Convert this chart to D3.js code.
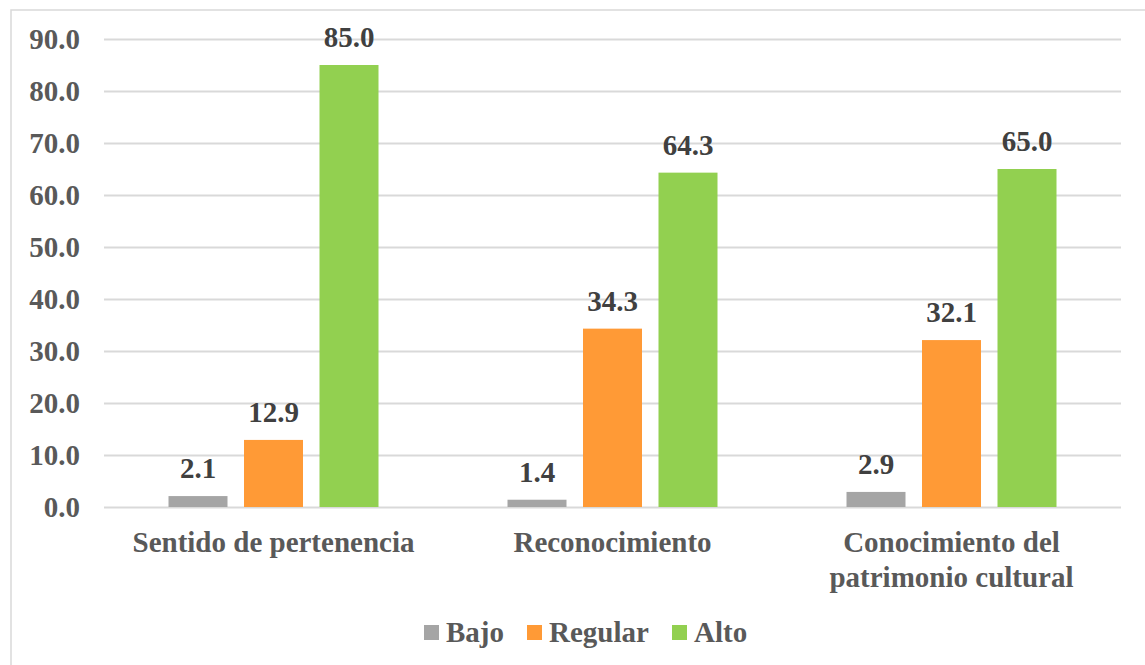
<!DOCTYPE html>
<html><head><meta charset="utf-8">
<script src="https://cdn.jsdelivr.net/npm/d3@7"></script>
<style>body{margin:0;background:#fff}svg{display:block}
svg text{font-family:"Liberation Serif","Times New Roman","DejaVu Serif",serif;font-weight:bold}</style>
</head><body>
<svg id="c" width="1145" height="665"></svg>
<script>
const categories = [["Sentido de pertenencia"], ["Reconocimiento"], ["Conocimiento del", "patrimonio cultural"]];
const seriesNames = ["Bajo", "Regular", "Alto"];
const bajo = [2.1, 1.4, 2.9];
const regular = [12.9, 34.3, 32.1];
const alto = [85.0, 64.3, 65.0];
const yTicks = [0, 10, 20, 30, 40, 50, 60, 70, 80, 90];
const colors = ["#A5A5A5", "#FF9A36", "#92D050"];

(function () {
const series = [bajo, regular, alto];
const svg = d3.select("#c");
svg.append("rect").attr("x", 11).attr("y", 10).attr("width", 1160).attr("height", 700)
  .attr("fill", "#fff").attr("stroke", "#D9D9D9").attr("stroke-width", 1.5);

const pLeft = 104, pRight = 1121, pTop = 39, pBottom = 507;
const x0 = d3.scaleBand().domain(categories.map((d, i) => i)).range([pLeft, pRight]);
const y = d3.scaleLinear().domain([0, 90]).range([pBottom, pTop]);
const barW = 59, step = 75.5;

const g = svg.append("g");
const yAxis = g.append("g").attr("transform", `translate(${pLeft},0)`)
  .call(d3.axisLeft(y).tickValues(yTicks).tickSize(-(pRight - pLeft)).tickFormat(d3.format(".1f")));
yAxis.attr("font-family", null).attr("font-size", null);
yAxis.select(".domain").remove();
yAxis.selectAll(".tick line").attr("stroke", "#D9D9D9").attr("stroke-width", 2);
yAxis.selectAll(".tick text").attr("x", -24).attr("dy", "0.34em").attr("fill", "#595959")
  .style("font-size", "29px");

categories.forEach((c, i) => {
  const cx = x0(i) + x0.bandwidth() / 2;
  series.forEach((s, j) => {
    const bx = cx + (j - 1) * step - barW / 2;
    g.append("rect").attr("x", bx).attr("y", y(s[i])).attr("width", barW)
      .attr("height", y(0) - y(s[i])).attr("fill", colors[j]);
    g.append("text").attr("x", cx + (j - 1) * step).attr("y", y(s[i]) - 18)
      .attr("text-anchor", "middle").attr("fill", "#404040")
      .style("font-size", "29px")
      .text(s[i].toFixed(1));
  });
  const t = g.append("text").attr("text-anchor", "middle").attr("fill", "#595959")
    .style("font-size", "29px");
  c.forEach((line, k) => {
    t.append("tspan").attr("x", cx).attr("y", 552 + k * 35).text(line);
  });
});

const legendX = [424, 527, 672];
seriesNames.forEach((n, j) => {
  g.append("rect").attr("x", legendX[j]).attr("y", 625).attr("width", 15).attr("height", 15).attr("fill", colors[j]);
  g.append("text").attr("x", legendX[j] + 22).attr("y", 642).attr("fill", "#595959")
    .style("font-size", "29px").text(n);
});
})();
</script>
</body></html>
